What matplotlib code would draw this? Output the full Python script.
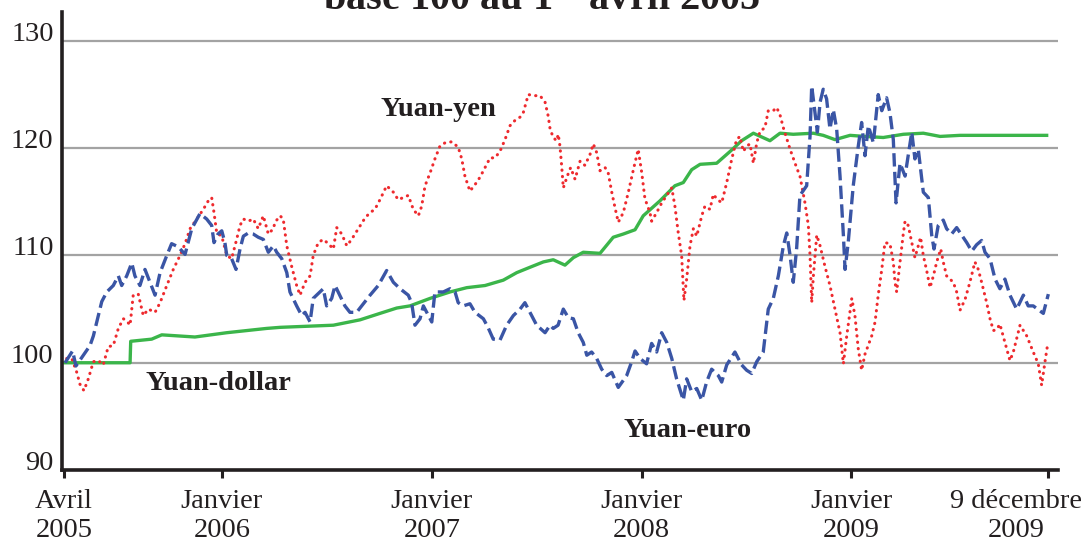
import matplotlib
matplotlib.use("Agg")
import matplotlib.pyplot as plt
import matplotlib.transforms as mtransforms

# -------------------------------------------------
# DATA (x in decimal years, base 100 = 1 April 2005)
# -------------------------------------------------

euro_x = [
    2005.252, 2005.288, 2005.304, 2005.339, 2005.371, 2005.387, 2005.427, 2005.451, 2005.482, 2005.506,
    2005.522, 2005.546, 2005.570, 2005.585, 2005.609, 2005.633, 2005.657, 2005.681, 2005.705, 2005.737,
    2005.760, 2005.792, 2005.824, 2005.856, 2005.895, 2005.927, 2005.951, 2005.962, 2005.981, 2005.999,
    2006.014, 2006.023, 2006.046, 2006.067, 2006.086, 2006.102, 2006.126, 2006.149, 2006.173, 2006.197,
    2006.221, 2006.245, 2006.261, 2006.285, 2006.309, 2006.324, 2006.356, 2006.380, 2006.396, 2006.420,
    2006.435, 2006.483, 2006.499, 2006.523, 2006.539, 2006.554, 2006.586, 2006.610, 2006.642, 2006.706,
    2006.745, 2006.785, 2006.817, 2006.849, 2006.888, 2006.904, 2006.920, 2006.944, 2006.960, 2006.976,
    2007.000, 2007.015, 2007.055, 2007.087, 2007.111, 2007.126, 2007.150, 2007.182, 2007.206, 2007.246,
    2007.268, 2007.293, 2007.325, 2007.357, 2007.389, 2007.421, 2007.444, 2007.468, 2007.500, 2007.540,
    2007.564, 2007.579, 2007.602, 2007.627, 2007.651, 2007.675, 2007.698, 2007.722, 2007.739, 2007.762,
    2007.786, 2007.810, 2007.834, 2007.858, 2007.889, 2007.929, 2007.953, 2007.969, 2007.993, 2008.024,
    2008.048, 2008.072, 2008.096, 2008.120, 2008.144, 2008.167, 2008.199, 2008.215, 2008.239, 2008.263,
    2008.287, 2008.310, 2008.334, 2008.366, 2008.382, 2008.406, 2008.445, 2008.477, 2008.501, 2008.525,
    2008.549, 2008.580, 2008.604, 2008.628, 2008.652, 2008.676, 2008.692, 2008.708, 2008.723, 2008.739,
    2008.755, 2008.787, 2008.803, 2008.811, 2008.827, 2008.838, 2008.851, 2008.866, 2008.882, 2008.898,
    2008.914, 2008.930, 2008.946, 2008.962, 2008.970, 2008.985, 2009.009, 2009.033, 2009.049, 2009.065,
    2009.081, 2009.105, 2009.128, 2009.145, 2009.168, 2009.184, 2009.200, 2009.213, 2009.224, 2009.232,
    2009.256, 2009.271, 2009.288, 2009.303, 2009.319, 2009.343, 2009.367, 2009.383, 2009.394, 2009.414,
    2009.438, 2009.454, 2009.478, 2009.502, 2009.526, 2009.550, 2009.574, 2009.597, 2009.621, 2009.637,
    2009.661, 2009.685, 2009.708, 2009.732, 2009.756, 2009.788, 2009.820, 2009.843, 2009.867, 2009.915,
    2009.939,
]
euro_v = [
    100.0, 101.1, 99.7, 100.7, 101.6, 102.5, 105.7, 106.6, 107.2, 108.1,
    107.2, 108.1, 109.3, 108.1, 107.2, 108.7, 107.5, 106.3, 108.4, 110.0,
    111.1, 110.8, 110.1, 112.5, 113.9, 113.4, 112.8, 111.2, 112.0, 112.3,
    111.2, 110.0, 109.7, 108.7, 110.6, 111.8, 112.1, 112.0, 111.7, 111.5,
    110.3, 110.9, 110.3, 109.7, 108.4, 106.6, 105.3, 104.4, 104.7, 103.8,
    106.0, 106.9, 105.3, 106.0, 107.2, 106.6, 105.3, 104.7, 104.7, 106.3,
    107.2, 108.6, 107.5, 106.9, 106.3, 105.6, 103.5, 104.1, 105.3, 104.7,
    103.8, 106.6, 106.6, 106.9, 106.6, 105.6, 105.3, 105.5, 104.7, 104.1,
    103.3, 102.2, 102.1, 103.5, 104.4, 105.0, 105.6, 104.7, 103.5, 102.8,
    103.5, 103.2, 103.5, 105.0, 104.2, 104.1, 102.8, 101.9, 100.7, 101.0,
    100.4, 99.4, 98.8, 99.1, 97.7, 98.8, 100.1, 101.1, 100.4, 99.9,
    101.8, 101.0, 102.8, 101.9, 100.4, 98.5, 96.5, 98.5, 97.3, 97.6,
    96.5, 98.2, 99.4, 98.8, 98.2, 99.8, 101.0, 99.8, 99.3, 99.0,
    100.1, 101.0, 105.0, 106.0, 108.1, 110.9, 112.1, 110.0, 107.5, 110.6,
    115.6, 116.5, 121.1, 125.8, 123.3, 121.5, 124.3, 125.5, 124.6, 121.8,
    123.6, 121.8, 117.4, 111.9, 108.7, 111.2, 116.5, 120.2, 122.4, 119.3,
    122.1, 120.5, 125.0, 123.5, 124.7, 123.3, 120.8, 114.9, 117.1, 118.6,
    117.4, 119.3, 121.5, 119.0, 119.9, 115.9, 115.4, 111.9, 110.6, 112.8,
    113.3, 112.5, 112.0, 112.6, 111.9, 111.2, 110.4, 111.0, 111.4, 110.3,
    109.7, 107.8, 106.9, 107.8, 106.3, 105.0, 106.3, 105.3, 105.3, 104.6,
    106.4,
]

yen_x = [
    2005.260, 2005.284, 2005.308, 2005.323, 2005.342, 2005.363, 2005.387, 2005.411, 2005.434, 2005.458,
    2005.482, 2005.506, 2005.530, 2005.546, 2005.562, 2005.577, 2005.601, 2005.625, 2005.649, 2005.681,
    2005.705, 2005.737, 2005.768, 2005.800, 2005.824, 2005.848, 2005.880, 2005.911, 2005.935, 2005.951,
    2005.962, 2005.975, 2005.999, 2006.023, 2006.046, 2006.070, 2006.086, 2006.102, 2006.126, 2006.149,
    2006.173, 2006.197, 2006.221, 2006.245, 2006.253, 2006.277, 2006.292, 2006.309, 2006.332, 2006.356,
    2006.372, 2006.396, 2006.420, 2006.435, 2006.459, 2006.483, 2006.507, 2006.531, 2006.547, 2006.571,
    2006.595, 2006.618, 2006.650, 2006.682, 2006.706, 2006.729, 2006.753, 2006.785, 2006.817, 2006.840,
    2006.864, 2006.888, 2006.912, 2006.936, 2006.952, 2006.968, 2006.992, 2007.015, 2007.039, 2007.063,
    2007.095, 2007.126, 2007.143, 2007.158, 2007.182, 2007.206, 2007.230, 2007.254, 2007.278, 2007.301,
    2007.325, 2007.349, 2007.373, 2007.397, 2007.421, 2007.436, 2007.460, 2007.492, 2007.516, 2007.540,
    2007.555, 2007.564, 2007.579, 2007.595, 2007.603, 2007.611, 2007.619, 2007.627, 2007.646, 2007.662,
    2007.683, 2007.707, 2007.730, 2007.754, 2007.770, 2007.786, 2007.802, 2007.826, 2007.841, 2007.858,
    2007.873, 2007.889, 2007.913, 2007.937, 2007.961, 2007.984, 2008.001, 2008.016, 2008.040, 2008.048,
    2008.072, 2008.096, 2008.120, 2008.144, 2008.159, 2008.175, 2008.191, 2008.202, 2008.215, 2008.231,
    2008.247, 2008.263, 2008.287, 2008.302, 2008.326, 2008.342, 2008.358, 2008.382, 2008.406, 2008.430,
    2008.453, 2008.469, 2008.485, 2008.501, 2008.517, 2008.533, 2008.549, 2008.565, 2008.588, 2008.604,
    2008.628, 2008.644, 2008.660, 2008.676, 2008.708, 2008.739, 2008.755, 2008.779, 2008.795, 2008.803,
    2008.811, 2008.819, 2008.835, 2008.851, 2008.874, 2008.898, 2008.922, 2008.946, 2008.962, 2008.978,
    2009.002, 2009.017, 2009.033, 2009.049, 2009.065, 2009.097, 2009.113, 2009.128, 2009.145, 2009.160,
    2009.184, 2009.200, 2009.208, 2009.216, 2009.232, 2009.248, 2009.256, 2009.271, 2009.288, 2009.303,
    2009.319, 2009.330, 2009.343, 2009.359, 2009.375, 2009.391, 2009.407, 2009.426, 2009.438, 2009.454,
    2009.486, 2009.502, 2009.518, 2009.542, 2009.565, 2009.589, 2009.605, 2009.621, 2009.645, 2009.661,
    2009.677, 2009.693, 2009.708, 2009.732, 2009.756, 2009.772, 2009.804, 2009.836, 2009.867, 2009.891,
    2009.907, 2009.923, 2009.934,
]
yen_v = [
    100.4, 100.4, 99.1, 98.0, 97.4, 98.5, 100.1, 100.2, 99.8, 101.5,
    101.6, 103.2, 104.1, 103.9, 103.5, 106.3, 106.4, 104.4, 105.0, 104.7,
    105.6, 107.2, 108.7, 110.0, 111.1, 112.5, 113.4, 114.3, 115.1, 115.4,
    114.0, 112.1, 111.8, 110.0, 109.7, 111.5, 112.8, 113.4, 113.2, 113.4,
    112.5, 113.7, 112.0, 112.5, 113.1, 113.7, 113.4, 110.9, 109.0, 107.2,
    106.3, 107.5, 108.1, 110.0, 111.2, 111.5, 111.1, 110.6, 112.6, 112.0,
    110.9, 111.5, 112.5, 113.5, 114.0, 114.3, 115.2, 116.5, 115.9, 115.2,
    115.4, 115.6, 114.3, 113.7, 114.6, 116.5, 117.7, 119.0, 120.2, 120.5,
    120.6, 120.1, 119.0, 117.4, 116.0, 116.6, 117.3, 118.2, 119.1, 119.1,
    119.7, 120.8, 122.1, 122.6, 122.9, 123.3, 125.0, 124.9, 124.9, 124.3,
    123.0, 121.8, 121.0, 120.7, 121.3, 120.2, 118.4, 116.3, 117.4, 118.2,
    117.1, 118.8, 118.4, 119.4, 120.4, 119.6, 117.9, 118.2, 117.7, 115.9,
    114.5, 113.1, 114.0, 115.9, 118.0, 119.9, 117.7, 115.3, 114.0, 113.2,
    114.0, 114.9, 115.6, 116.3, 114.6, 112.1, 110.0, 105.8, 107.8, 110.9,
    112.5, 111.8, 113.7, 114.6, 114.3, 115.7, 115.3, 114.9, 116.8, 119.0,
    120.8, 121.1, 119.7, 120.2, 120.4, 118.6, 120.5, 121.6, 121.9, 123.5,
    123.5, 123.8, 123.1, 121.9, 119.9, 118.2, 117.4, 114.9, 112.8, 110.0,
    105.6, 108.1, 111.9, 110.9, 109.0, 107.2, 105.0, 102.8, 99.9, 102.5,
    106.0, 104.4, 101.3, 99.3, 100.8, 102.5, 103.8, 106.3, 108.7, 111.2,
    111.1, 109.4, 107.5, 106.6, 109.4, 112.1, 113.2, 112.8, 111.2, 109.8,
    110.9, 111.7, 110.0, 108.6, 107.0, 108.1, 109.4, 110.6, 109.4, 108.1,
    107.5, 106.6, 104.9, 105.9, 107.5, 109.4, 108.7, 107.5, 105.6, 104.1,
    103.0, 103.1, 103.6, 101.9, 100.2, 101.0, 103.5, 102.5, 101.0, 99.9,
    97.9, 100.1, 101.5,
]

dollar_x = [
    2005.252, 2005.562, 2005.565, 2005.665, 2005.713, 2005.871, 2006.023, 2006.213, 2006.277, 2006.531,
    2006.658, 2006.753, 2006.833, 2006.896, 2006.992, 2007.087, 2007.167, 2007.254, 2007.341, 2007.405,
    2007.468, 2007.532, 2007.579, 2007.635, 2007.675, 2007.722, 2007.802, 2007.865, 2007.913, 2007.969,
    2008.008, 2008.088, 2008.159, 2008.199, 2008.239, 2008.279, 2008.358, 2008.422, 2008.477, 2008.533,
    2008.612, 2008.660, 2008.723, 2008.819, 2008.866, 2008.922, 2008.994, 2009.065, 2009.152, 2009.248,
    2009.343, 2009.423, 2009.518, 2009.931,
]
dollar_v = [
    100.0, 100.0, 102.0, 102.2, 102.6, 102.4, 102.8, 103.2, 103.3, 103.5,
    104.0, 104.6, 105.1, 105.3, 106.0, 106.6, 107.0, 107.2, 107.7, 108.4,
    108.9, 109.4, 109.6, 109.1, 109.8, 110.3, 110.2, 111.7, 112.0, 112.4,
    113.7, 115.1, 116.5, 116.8, 118.0, 118.5, 118.6, 119.7, 120.7, 121.4,
    120.7, 121.4, 121.3, 121.4, 121.2, 120.8, 121.2, 121.1, 121.0, 121.3,
    121.4, 121.1, 121.2, 121.2,
]

tick_pos = [2005.247, 2006.0, 2007.0, 2008.0, 2009.0, 2009.937]
tick_labels = ["Avril\n2005", "Janvier\n2006", "Janvier\n2007", "Janvier\n2008",
               "Janvier\n2009", "9 décembre\n2009"]
y_ticks = [90, 100, 110, 120, 130]

series_labels = ["Yuan-yen", "Yuan-dollar", "Yuan-euro"]
label_pos = [(2007.030, 123.0), (2005.981, 97.5), (2008.219, 93.1)]

title = r"base 100 au 1$^{\mathbf{er}}$ avril 2005"

BLUE = "#3a55a5"
RED = "#ee2a2e"
GREEN = "#3bb54a"
INK = "#231f20"
GRID = "#a3a3a3"

# -------------------------------------------------
# PLOT
# -------------------------------------------------

plt.rcParams["font.family"] = ["Liberation Serif", "DejaVu Serif"]
plt.rcParams["mathtext.fontset"] = "custom"
plt.rcParams["mathtext.rm"] = "Liberation Serif"
plt.rcParams["mathtext.bf"] = "Liberation Serif:bold"

W, H = 1092, 547
fig = plt.figure(figsize=(W / 100, H / 100), dpi=100)
ax = fig.add_axes([62 / W, 1 - 470 / H, (1058 - 62) / W, (470 - 12) / H])

ax.plot(dollar_x, dollar_v, color=GREEN, lw=2.4, solid_joinstyle="round", zorder=3)
ax.plot(yen_x, yen_v, color=RED, lw=2.2, linestyle=(0, (0.1, 2.0)),
        dash_capstyle="round", zorder=4)
ax.plot(euro_x, euro_v, color=BLUE, lw=2.4, linestyle=(0, (4, 1.6)), zorder=5)

ax.set_xlim(2005.2375, 2009.985)
ax.set_ylim(90, 132.7)

ax.set_yticks(y_ticks)
ax.set_yticklabels([str(v) for v in y_ticks])
for lbl in ax.get_yticklabels():
    lbl.set_verticalalignment("baseline")
ax.tick_params(axis="y", length=0, pad=6, labelsize=20.5, labelcolor=INK)

ax.set_xticks(tick_pos)
ax.set_xticklabels(tick_labels)
ax.tick_params(axis="x", length=6, width=2.2, direction="out", pad=7.5,
               labelsize=20.5, labelcolor=INK, color=INK)
for lbl in ax.get_xticklabels():
    lbl.set_linespacing(1.2)
# last label sits left of its tick
shift = mtransforms.ScaledTranslation(-0.32, 0, fig.dpi_scale_trans)
last = ax.get_xticklabels()[-1]
last.set_transform(last.get_transform() + shift)

ax.yaxis.grid(True, color=GRID, lw=1.6)
ax.set_axisbelow(True)
for s in ["top", "right"]:
    ax.spines[s].set_visible(False)
for s in ["left", "bottom"]:
    ax.spines[s].set_linewidth(2.6)
    ax.spines[s].set_color(INK)
    ax.spines[s].set_zorder(6)

for txt, (x, y) in zip(series_labels, label_pos):
    ax.text(x, y, txt, fontsize=20.5, fontweight="bold", color=INK,
            ha="center", va="baseline", zorder=7)

fig.text(0.496, 1 - 10 / H, title, fontsize=29, fontweight="bold", color=INK,
         ha="center", va="baseline")

fig.savefig("out.png", dpi=100)
